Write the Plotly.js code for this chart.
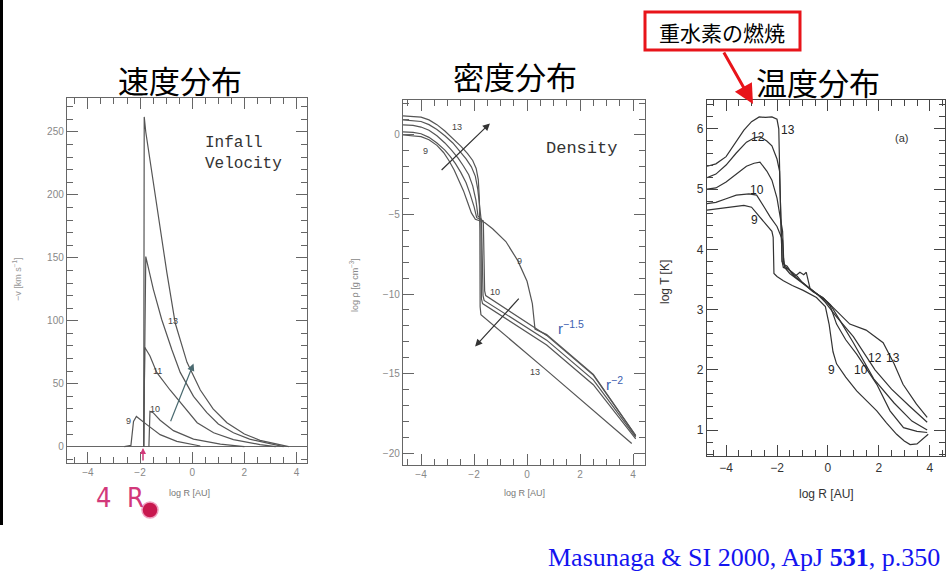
<!DOCTYPE html>
<html><head><meta charset="utf-8">
<script src="https://cdn.plot.ly/plotly-3.0.1.min.js"></script>
<style>html,body{margin:0;padding:0;background:#fff;}#chart{width:947px;height:585px;}</style>
</head><body><div id="chart"></div>
<script>
// ---------- Velocity panel (km/s) ----------
const v9x  = [-2.6,-2.35,-2.25,-2.14,-1.74,-1.23,-0.59,0.31];
const v9y  = [0,1,20,24,17.5,9.5,4.2,0.5];
const v10x = [-1.66,-1.62,-1.5,-1.23,-0.72,0.05,1.08,2.0];
const v10y = [0,28,27,21,12.7,6,2,0];
const v11x = [-1.86,-1.82,-1.62,-1.36,-0.85,-0.33,0.19,0.82,1.58,2.6,3.2];
const v11y = [0,79,72,59,45,32,19,11,5.6,1.6,0];
const v12x = [-1.86,-1.78,-1.49,-1.17,-0.78,-0.46,0.05,0.56,1.0,1.58,2.2,2.87,3.5];
const v12y = [0,151,125,101,77,59,40,27,18,11,6,2.6,0];
const v13x = [-1.86,-1.84,-1.78,-1.6,-1.42,-1.23,-0.97,-0.65,-0.2,0.31,0.8,1.33,2.0,2.6,3.2,3.7];
const v13y = [0,262,250,225,204,177,138,98,67,45,30,19,10,5,2,0];

// ---------- Density panel (log rho) ----------
const d9x  = [-4.68,-4.3,-4.0,-3.7,-3.4,-3.15,-2.95,-2.75,-2.55,-2.4,-2.25,-2.1,-1.95,-1.6,-1.3,-0.8,-0.35,0.0,0.2,0.3,0.74,2.5,4.1];
const d9y  = [0.0,-0.03,-0.1,-0.3,-0.65,-1.1,-1.6,-2.2,-2.9,-3.5,-4.2,-4.9,-5.3,-5.5,-5.9,-6.7,-7.9,-9.2,-10.6,-12.2,-12.55,-15.05,-18.9];
const d10x = [-4.68,-4.3,-4.0,-3.7,-3.4,-3.1,-2.9,-2.7,-2.5,-2.3,-2.15,-2.0,-1.9,-1.65,-1.6,-1.56,0.74,2.5,4.1];
const d10y = [0.2,0.17,0.08,-0.15,-0.5,-0.95,-1.35,-1.8,-2.35,-3.0,-3.7,-4.5,-5.2,-5.4,-9.8,-10.1,-12.6,-15.1,-18.9];
const d11x = [-4.68,-4.3,-4.0,-3.7,-3.4,-3.1,-2.85,-2.6,-2.4,-2.2,-2.05,-1.93,-1.85,-1.72,-1.66,-1.62,0.74,2.5,4.1];
const d11y = [0.63,0.6,0.5,0.3,-0.05,-0.5,-0.95,-1.45,-1.95,-2.5,-3.2,-4.1,-5.1,-5.3,-10.1,-10.4,-12.9,-15.4,-19.0];
const d12x = [-4.68,-4.3,-4.0,-3.7,-3.4,-3.1,-2.8,-2.55,-2.3,-2.1,-1.95,-1.86,-1.8,-1.74,-1.72,-1.68,0.74,2.5,4.1];
const d12y = [0.95,0.92,0.85,0.65,0.35,-0.05,-0.5,-1.0,-1.5,-2.0,-2.6,-3.4,-4.5,-5.2,-10.3,-10.6,-13.2,-15.7,-19.1];
const d13x = [-4.68,-4.3,-4.0,-3.7,-3.4,-3.1,-2.8,-2.5,-2.25,-2.05,-1.92,-1.84,-1.8,-1.78,-1.77,-1.74,0.74,3.95];
const d13y = [1.2,1.18,1.12,0.95,0.65,0.25,-0.2,-0.7,-1.15,-1.6,-2.1,-2.8,-4.0,-6.0,-10.8,-11.3,-14.8,-19.4];

// ---------- Temperature panel (log T) ----------
const t9x  = [-4.75,-4.4,-4.0,-3.6,-3.3,-3.0,-2.67,-2.4,-2.2,-2.15,-2.12,-2.0,-1.75,-1.4,-0.97,-0.45,-0.1,0.05,0.2,0.34,0.7,1.13,1.5,1.92,2.3,2.7,3.0,3.23,3.5,3.94];
const t9y  = [4.65,4.67,4.7,4.72,4.73,4.7,4.54,4.4,4.3,4.2,3.6,3.55,3.48,3.4,3.32,3.2,3.05,2.75,2.3,2.1,1.88,1.65,1.5,1.32,1.12,0.93,0.82,0.76,0.77,0.93];
const t10x = [-4.75,-4.4,-4.0,-3.6,-3.1,-2.8,-2.5,-2.27,-2.0,-1.88,-1.78,-1.74,-1.7,-1.5,-1.2,-0.9,-0.5,-0.15,0.1,0.34,0.7,1.13,1.5,1.92,2.44,2.97,3.5,3.9];
const t10y = [4.76,4.78,4.84,4.9,4.92,4.9,4.7,4.54,4.38,4.26,4.15,3.8,3.7,3.6,3.5,3.4,3.28,3.18,3.05,2.76,2.5,2.26,2.02,1.76,1.32,1.04,0.98,0.96];
const t11x = [-4.75,-4.4,-4.0,-3.6,-3.2,-2.9,-2.67,-2.4,-2.2,-2.0,-1.85,-1.78,-1.74,-1.7,-1.55,-1.3,-1.0,-0.6,-0.2,0.1,0.5,1.0,1.8,2.6,3.3,3.9];
const t11y = [5.0,5.02,5.12,5.25,5.38,5.43,5.45,5.3,5.15,4.85,4.45,4.3,3.85,3.72,3.68,3.55,3.45,3.3,3.2,3.08,2.8,2.45,1.85,1.45,1.15,1.0];
const t12x = [-4.75,-4.4,-4.0,-3.6,-3.2,-2.9,-2.67,-2.4,-2.2,-2.0,-1.9,-1.85,-1.8,-1.72,-1.6,-1.45,-1.3,-1.1,-0.95,-0.85,-0.7,-0.4,-0.1,0.3,1.0,1.85,2.5,3.2,3.9];
const t12y = [5.19,5.25,5.4,5.6,5.78,5.85,5.87,5.8,5.72,5.5,5.3,4.5,3.8,3.75,3.72,3.62,3.55,3.62,3.58,3.62,3.35,3.25,3.12,2.9,2.55,2.0,1.68,1.4,1.13];
const t13x = [-4.75,-4.4,-4.0,-3.6,-3.3,-3.0,-2.7,-2.45,-2.2,-2.0,-1.93,-1.88,-1.84,-1.8,-1.75,-1.6,-1.4,-1.2,-1.0,-0.8,-0.5,-0.2,0.0,0.4,0.86,1.5,2.17,2.6,2.95,3.48,3.9];
const t13y = [5.38,5.42,5.54,5.8,5.98,6.12,6.2,6.19,6.2,6.16,6.0,5.0,4.2,3.8,3.7,3.68,3.62,3.55,3.45,3.38,3.28,3.18,3.12,2.95,2.76,2.66,2.45,2.1,1.76,1.43,1.21];

const panelTitles = ["速度分布", "密度分布", "温度分布"];
const xTitle = "log R [AU]";
const yTitles = ["−v [km s<sup>−1</sup>]", "log ρ [g cm<sup>−3</sup>]", "log T [K]"];

// ---------- helpers ----------
const W = 947, H = 585;
const PX = x => x / W;
const PY = y => 1 - y / H;
const g1 = '#555', g3 = '#333';
function line(x, y, xa, ya, c) {
  return {x: x, y: y, xaxis: xa, yaxis: ya, type: 'scatter', mode: 'lines',
          line: {color: c, width: 1.2}, showlegend: false, hoverinfo: 'skip'};
}
const traces = [
  line(v9x, v9y, 'x', 'y', g1), line(v10x, v10y, 'x', 'y', g1), line(v11x, v11y, 'x', 'y', g1),
  line(v12x, v12y, 'x', 'y', g1), line(v13x, v13y, 'x', 'y', g1),
  line(d9x, d9y, 'x2', 'y2', g1), line(d10x, d10y, 'x2', 'y2', g1), line(d11x, d11y, 'x2', 'y2', g1),
  line(d12x, d12y, 'x2', 'y2', g1), line(d13x, d13y, 'x2', 'y2', g1),
  line(t9x, t9y, 'x3', 'y3', g3), line(t10x, t10y, 'x3', 'y3', g3), line(t11x, t11y, 'x3', 'y3', g3),
  line(t12x, t12y, 'x3', 'y3', g3), line(t13x, t13y, 'x3', 'y3', g3)
];

function ax(dom, rng, anchor, dt, mdt, col, fs, fcol, extra) {
  return Object.assign({
    domain: dom, range: rng, anchor: anchor, dtick: dt, tick0: 0,
    showgrid: false, zeroline: false, showline: true, linecolor: col, linewidth: 1.2,
    mirror: 'allticks', ticks: 'inside', ticklen: 11, tickcolor: col, tickwidth: 1,
    minor: {dtick: mdt, ticks: 'inside', ticklen: 6, tickcolor: col, showgrid: false},
    tickfont: {family: 'Liberation Sans, Arial, sans-serif', size: fs, color: fcol},
    fixedrange: true
  }, extra || {});
}

const layout = {
  width: W, height: H, margin: {l: 0, r: 0, t: 0, b: 0},
  paper_bgcolor: '#fff', plot_bgcolor: 'rgba(0,0,0,0)', showlegend: false,
  xaxis:  ax([PX(67), PX(307)], [-4.8, 4.4], 'y', 2, 0.5, '#666', 10, '#888'),
  yaxis:  ax([PY(463), PY(98)], [-13, 277], 'x', 50, 10, '#666', 10, '#888',
             {zeroline: true, zerolinecolor: '#666', zerolinewidth: 1.2}),
  xaxis2: ax([PX(403), PX(645)], [-4.68, 4.45], 'y2', 2, 0.5, '#666', 10, '#888'),
  yaxis2: ax([PY(465), PY(100)], [-20.75, 2.2], 'x2', 5, 1, '#666', 10, '#888'),
  xaxis3: ax([PX(707), PX(945)], [-4.75, 4.6], 'y3', 2, 0.5, '#444', 12, '#333'),
  yaxis3: ax([PY(456), PY(100)], [0.57, 6.48], 'x3', 1, 0.2, '#444', 12, '#333'),
  shapes: [
    {type: 'rect', xref: 'paper', yref: 'paper', x0: 0, x1: PX(3), y0: PY(525), y1: 1,
     fillcolor: '#000', line: {width: 0}},
    {type: 'rect', xref: 'paper', yref: 'paper', x0: PX(645), x1: PX(800), y0: PY(50), y1: PY(12),
     fillcolor: '#fff', line: {color: '#e8141a', width: 3}},
    {type: 'circle', xref: 'paper', yref: 'paper', x0: PX(142), x1: PX(158), y0: PY(518), y1: PY(502),
     fillcolor: '#c8184f', line: {color: '#f0a0c0', width: 1.5}}
  ],
  annotations: []
};
const A = layout.annotations;
function txt(text, x, y, xr, yr, size, color, fam, extra) {
  A.push(Object.assign({text: text, x: x, y: y, xref: xr, yref: yr, showarrow: false,
    xanchor: 'center', yanchor: 'middle',
    font: {family: fam || 'Liberation Sans, Arial, sans-serif', size: size, color: color}}, extra || {}));
}
const cjk = 'Noto Sans CJK JP, sans-serif';
// Panel titles
txt(panelTitles[0], PX(180), PY(80), 'paper', 'paper', 31, '#000', cjk);
txt(panelTitles[1], PX(515), PY(76), 'paper', 'paper', 31, '#000', cjk);
txt(panelTitles[2], PX(818), PY(82), 'paper', 'paper', 31, '#000', cjk);
// Axis titles
txt(xTitle, PX(189), PY(493), 'paper', 'paper', 9, '#777');
txt(xTitle, PX(524), PY(493), 'paper', 'paper', 9, '#777');
txt(xTitle, PX(826), PY(494), 'paper', 'paper', 12, '#333');
txt(yTitles[0], PX(17), PY(280), 'paper', 'paper', 9, '#999', null, {textangle: -90});
txt(yTitles[1], PX(354), PY(285), 'paper', 'paper', 9, '#888', null, {textangle: -90});
txt(yTitles[2], PX(665), PY(282), 'paper', 'paper', 12, '#333', null, {textangle: -90});
// Panel inner text
const mono = 'Liberation Mono, DejaVu Sans Mono, monospace';
txt('Infall<br>Velocity', PX(203), PY(154), 'paper', 'paper', 16, '#333', mono, {xanchor: 'left', align: 'left'});
txt('Density', PX(581), PY(148), 'paper', 'paper', 17, '#333', mono);
txt('(a)', 2.9, 5.85, 'x3', 'y3', 11, '#333');
// Curve labels
const lc = '#444';
txt('9', -2.46, 20, 'x', 'y', 9, lc); txt('10', -1.42, 30, 'x', 'y', 9, lc);
txt('11', -1.32, 60, 'x', 'y', 9, lc); txt('13', -0.73, 100, 'x', 'y', 9, lc);
txt('13', -2.65, 0.52, 'x2', 'y2', 9, lc); txt('9', -3.85, -1.0, 'x2', 'y2', 9, lc);
txt('9', -0.3, -7.9, 'x2', 'y2', 9, lc); txt('10', -1.2, -9.9, 'x2', 'y2', 9, lc);
txt('13', 0.3, -14.9, 'x2', 'y2', 9, lc);
txt('r<sup>−1.5</sup>', 1.65, -12.1, 'x2', 'y2', 15, '#4060b0', 'Liberation Sans, Arial, sans-serif');
txt('r<sup>−2</sup>', 3.3, -15.6, 'x2', 'y2', 15, '#4060b0', 'Liberation Sans, Arial, sans-serif');
txt('13', -1.55, 5.98, 'x3', 'y3', 12, '#222'); txt('12', -2.73, 5.87, 'x3', 'y3', 12, '#222');
txt('10', -2.77, 4.98, 'x3', 'y3', 12, '#222'); txt('9', -2.9, 4.48, 'x3', 'y3', 12, '#222');
txt('9', 0.15, 1.99, 'x3', 'y3', 12, '#222'); txt('10', 1.29, 1.99, 'x3', 'y3', 12, '#222');
txt('12', 1.85, 2.2, 'x3', 'y3', 12, '#222'); txt('13', 2.55, 2.2, 'x3', 'y3', 12, '#222');
// Arrows in data space
function arr(x, y, axv, ayv, xr, yr, col) {
  A.push({x: x, y: y, ax: axv, ay: ayv, xref: xr, yref: yr, axref: xr, ayref: yr, text: '',
    showarrow: true, arrowhead: 2, arrowsize: 1.2, arrowwidth: 1.2, arrowcolor: col});
}
arr(0.05, 66, -0.85, 19, 'x', 'y', '#4a6a70');
arr(-1.40, 0.73, -3.28, -2.29, 'x2', 'y2', '#333');
arr(-1.96, -13.3, -0.26, -10.2, 'x2', 'y2', '#333');
// Pink "4 R_sun" marker
txt('4  R', PX(120), PY(497), 'paper', 'paper', 27, '#d2387a', 'Liberation Sans Narrow, DejaVu Sans Condensed, sans-serif');
A.push({x: PX(143), y: PY(448), xref: 'paper', yref: 'paper', ax: 0, ay: 14, text: '',
  showarrow: true, arrowhead: 2, arrowsize: 0.8, arrowwidth: 1.5, arrowcolor: '#d2387a'});
// Red callout
txt('重水素の燃焼', PX(722), PY(32), 'paper', 'paper', 21, '#000', cjk);
A.push({x: PX(753), y: PY(104), xref: 'paper', yref: 'paper', ax: -30, ay: -53, text: '',
  showarrow: true, arrowhead: 2, arrowsize: 1.3, arrowwidth: 3, arrowcolor: '#e8141a'});
// Citation
txt('Masunaga &amp; SI 2000, ApJ <b>531</b>, p.350', PX(942), PY(557), 'paper', 'paper', 26, '#1414f0',
    'Liberation Serif, Times New Roman, serif', {xanchor: 'right'});

Plotly.newPlot('chart', traces, layout, {staticPlot: true, displayModeBar: false});
</script></body></html>
